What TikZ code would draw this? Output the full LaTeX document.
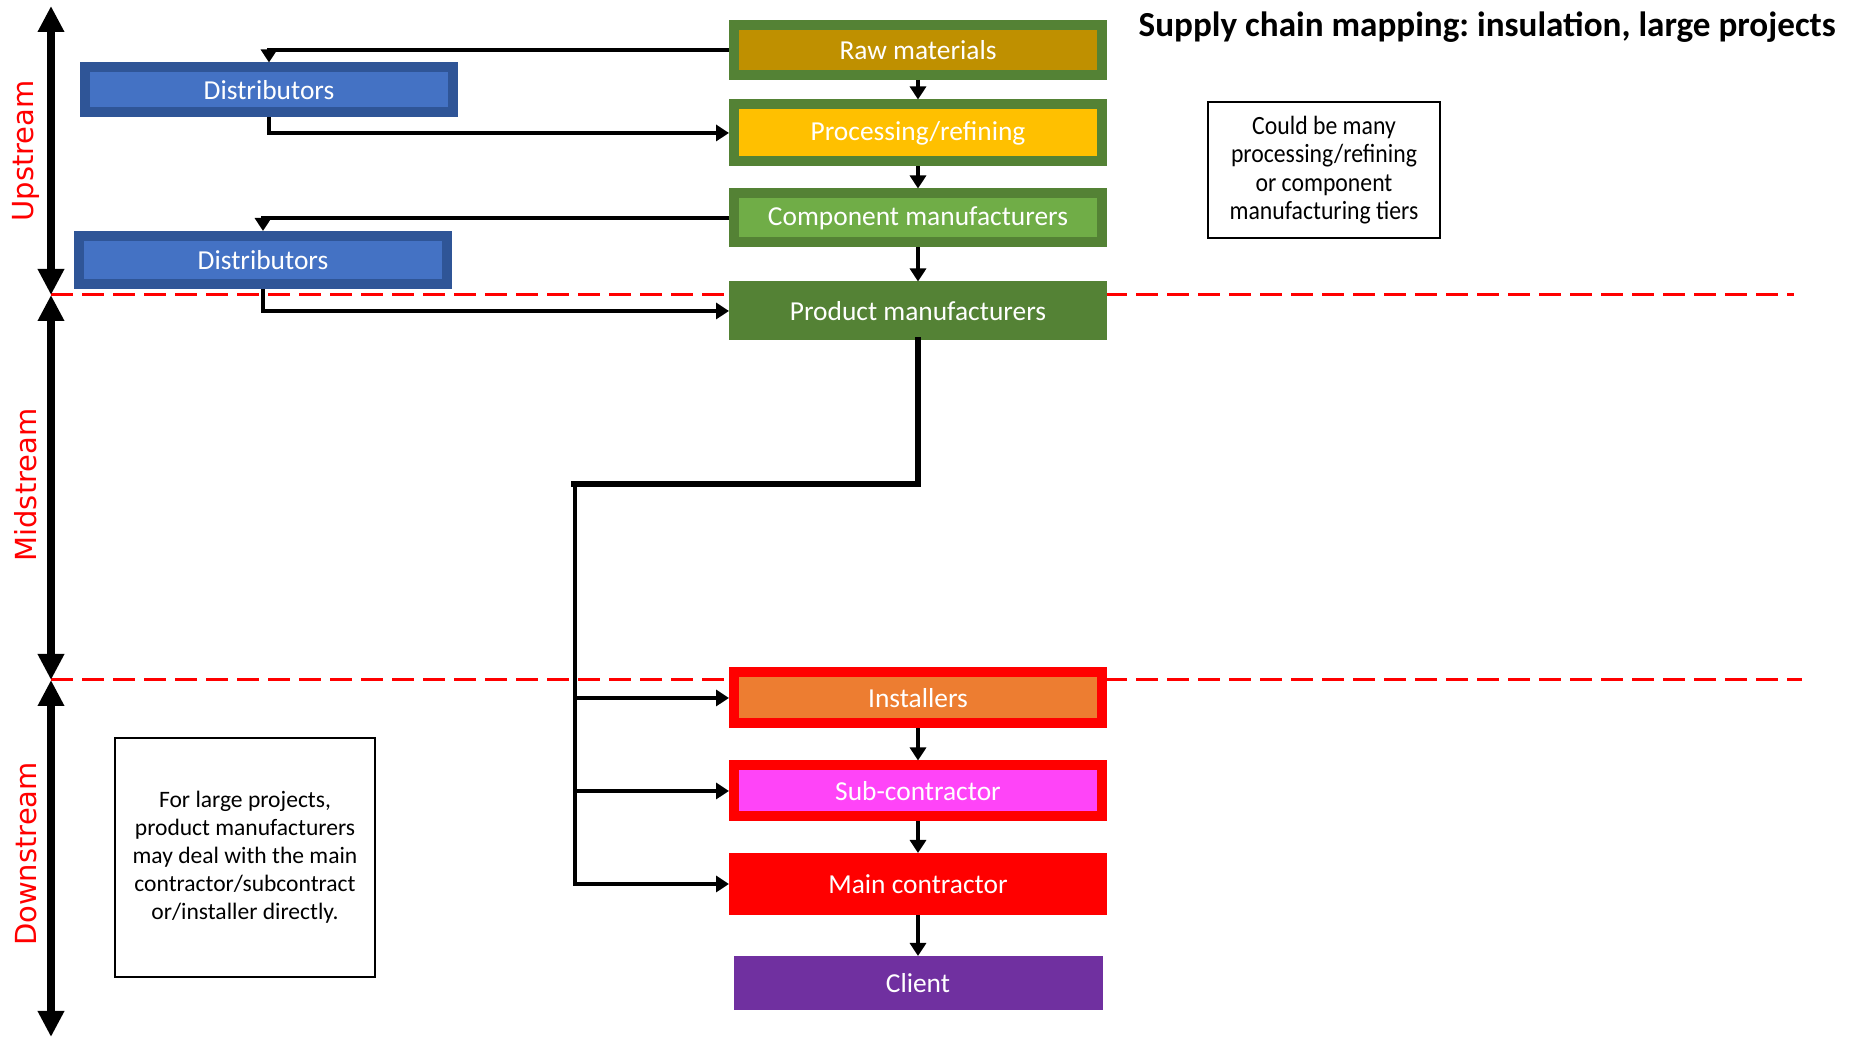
\documentclass[tikz,border=0pt]{standalone}
\usepackage{fontspec}
\setmainfont{Carlito}
\newfontfamily\sidefont{DejaVu Sans}
\newfontfamily\notefont[FakeStretch=0.9]{Carlito}
\usetikzlibrary{arrows.meta}
\frenchspacing

\definecolor{distborder}{HTML}{2F5597}
\definecolor{distfill}{HTML}{4472C4}
\definecolor{chaingreen}{HTML}{548235}
\definecolor{rawfill}{HTML}{BF9000}
\definecolor{procfill}{HTML}{FFC000}
\definecolor{compfill}{HTML}{70AD47}
\definecolor{instfill}{HTML}{ED7D31}
\definecolor{subfill}{HTML}{FF44F8}
\definecolor{clientfill}{HTML}{7030A0}

\begin{document}
\begin{tikzpicture}[
	stage/.style={draw=#1, line width=0.1cm, inner sep=0pt, minimum width=3.68cm, text=white, font=\fontsize{7.8}{9}\selectfont},
	flow/.style={line width=0.04cm, -{Triangle[length=0.13cm, width=0.16cm]}},
	note/.style={draw, line width=0.025cm, align=center, inner sep=0pt},
	zone/.style={line width=0.07cm, {Triangle[length=0.26cm, width=0.25cm]}-{Triangle[length=0.26cm, width=0.25cm]}},
	zonelabel/.style={rotate=90, text=red, inner sep=0pt, font=\sidefont\fontsize{8.25}{10}\selectfont},
	boundary/.style={red, line width=0.03cm, dash pattern=on 0.22cm off 0.09cm}
]
	\useasboundingbox (0,0) rectangle (18.65,10.40);

	% Zonas
		\coordinate (ztop) at (0.51,10.34);
		\coordinate (zup) at (0.51,7.45);
		\coordinate (zdown) at (0.51,3.60);
		\coordinate (zbot) at (0.51,0.03);
		\draw[boundary] (zup) -- (17.94,7.45);
		\draw[boundary] (zdown) -- (18.02,3.60);
		\draw[zone] (ztop) -- (zup);
		\draw[zone] (zup) -- (zdown);
		\draw[zone] (zdown) -- (zbot);
		\node[zonelabel] (uplabel) at (0.26,8.89) {Upstream};
		\node[zonelabel] (midlabel) at (0.26,5.55) {Midstream};
		\node[zonelabel] (downlabel) at (0.26,1.86) {Downstream};

	% Cadena principal
		\node[stage=chaingreen, fill=rawfill, minimum height=0.50cm] (raw) at (9.18,9.90) {Raw materials};
		\node[stage=chaingreen, fill=procfill, minimum height=0.57cm] (proc) at (9.18,9.07) {Processing/refining};
		\node[stage=chaingreen, fill=compfill, minimum height=0.49cm] (comp) at (9.18,8.22) {Component manufacturers};
		\node[stage=chaingreen, fill=chaingreen, minimum height=0.49cm] (prod) at (9.18,7.29) {Product manufacturers};
		\node[stage=red, fill=instfill, minimum height=0.51cm] (inst) at (9.18,3.42) {Installers};
		\node[stage=red, fill=subfill, minimum height=0.51cm] (sub) at (9.18,2.49) {Sub-contractor};
		\node[stage=red, fill=red, minimum height=0.52cm] (main) at (9.18,1.56) {Main contractor};
		\node[stage=clientfill, fill=clientfill, minimum width=3.59cm, minimum height=0.44cm] (client) at (9.18,0.57) {Client};

	% Distribuidores
		\node[stage=distborder, fill=distfill, minimum height=0.45cm] (dista) at (2.69,9.50) {Distributors};
		\node[stage=distborder, fill=distfill, minimum height=0.48cm] (distb) at (2.63,7.80) {Distributors};

	% Flechas
		\foreach \a/\b in {raw/proc, proc/comp, comp/prod, inst/sub, sub/main, main/client}
			\draw[flow] (\a) -- (\b);
		\draw[flow] (raw.west) -| (dista.north);
		\draw[flow] (dista.south) |- (proc.west);
		\draw[flow] (comp.west) -| (distb.north);
		\draw[flow] (distb.south) |- (prod.west);

	% Bajada a instaladores y contratistas
		\coordinate (bus) at (5.745,5.56);
		\draw[line width=0.065cm, line cap=rect] (prod.south) |- (bus);
		\foreach \t in {inst, sub, main}
			\draw[flow] (bus) |- (\t.west);

	% Titulo y notas
		\node[anchor=west, inner sep=0pt, font=\bfseries\fontsize{10}{12}\selectfont] (title) at (11.38,10.13) {Supply chain mapping: insulation, large projects};
		\node[note, minimum width=2.32cm, minimum height=1.36cm, font=\notefont\fontsize{7.5}{8.1}\selectfont] (tiers) at (13.24,8.70) {Could be many\\processing/refining\\or component\\manufacturing tiers};
		\node[note, minimum width=2.60cm, minimum height=2.39cm, font=\fontsize{6.7}{7.97}\selectfont] (large) at (2.45,1.825) {For large projects,\\product manufacturers\\may deal with the main\\contractor/subcontract\\or/installer directly.};
\end{tikzpicture}
\end{document}
